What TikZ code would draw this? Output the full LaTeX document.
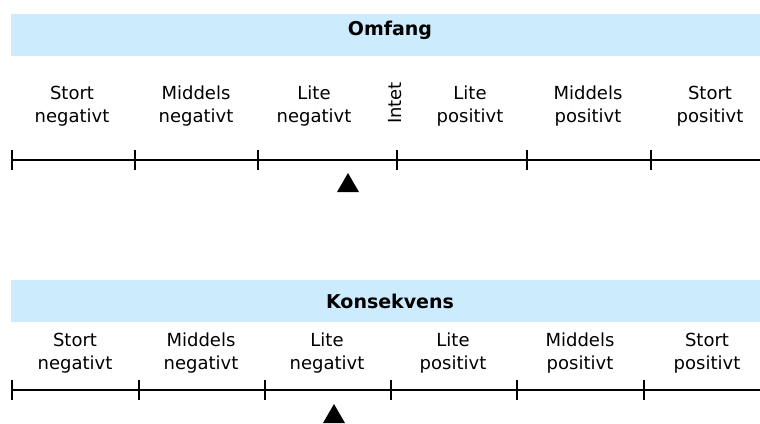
\documentclass[tikz,border=0pt]{standalone}
\usepackage{fontspec}
\setmainfont{DejaVu Sans}
\usetikzlibrary{shapes.geometric}
\definecolor{bandblue}{RGB}{204,235,252}

\begin{document}
\begin{tikzpicture}[x=1pt, y=-1pt]
	\tikzstyle{band} = [rectangle, fill=bandblue, draw=none, minimum width=758pt, minimum height=42pt, inner sep=0, font=\fontsize{19}{23}\selectfont\bfseries]
	\tikzstyle{scaletext} = [align=center, inner sep=0, font=\fontsize{18}{23}\selectfont]
	\tikzstyle{axis} = [line width=2.6pt, draw=black]
	\tikzstyle{marker} = [regular polygon, regular polygon sides=3, fill=black, minimum size=25.4pt, inner sep=0]
	\useasboundingbox (0,0) rectangle (760,423);
	% Omfang
	\node (omfang)[band, text depth=12.5pt] at (390,35) {Omfang};
	\node (stortneg1)[scaletext] at (72,106.5) {Stort\\negativt};
	\node (middneg1)[scaletext] at (196,106.5) {Middels\\negativt};
	\node (liteneg1)[scaletext] at (314,106.5) {Lite\\negativt};
	\node (intet)[scaletext, rotate=90] at (395,103) {Intet};
	\node (litepos1)[scaletext] at (470,106.5) {Lite\\positivt};
	\node (middpos1)[scaletext] at (588,106.5) {Middels\\positivt};
	\node (stortpos1)[scaletext] at (710,106.5) {Stort\\positivt};
	\draw [axis] (12,160) -- (770,160)
		(12,150) -- (12,170) (135,150) -- (135,170) (258,150) -- (258,170)
		(397,150) -- (397,170) (527,150) -- (527,170) (651,150) -- (651,170);
	\node (omfangmark)[marker] at (348,185.7) {};
	% Konsekvens
	\node (konsekvens)[band] at (390,301) {Konsekvens};
	\node (stortneg2)[scaletext] at (75,353.5) {Stort\\negativt};
	\node (middneg2)[scaletext] at (201,353.5) {Middels\\negativt};
	\node (liteneg2)[scaletext] at (327,353.5) {Lite\\negativt};
	\node (litepos2)[scaletext] at (453,353.5) {Lite\\positivt};
	\node (middpos2)[scaletext] at (580,353.5) {Middels\\positivt};
	\node (stortpos2)[scaletext] at (707,353.5) {Stort\\positivt};
	\draw [axis] (12,390) -- (770,390)
		(12,380) -- (12,400) (139,380) -- (139,400) (265,380) -- (265,400)
		(391,380) -- (391,400) (517,380) -- (517,400) (644,380) -- (644,400);
	\node (konsekvensmark)[marker] at (334,416.7) {};
\end{tikzpicture}
\end{document}
